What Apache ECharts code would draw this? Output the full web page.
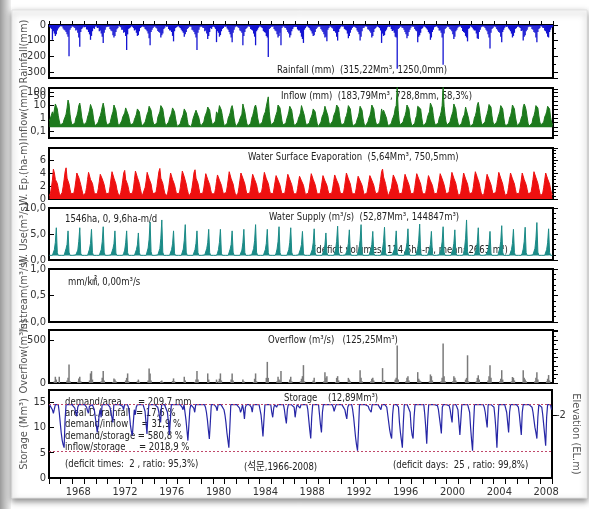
<!DOCTYPE html>
<html>
<head>
<meta charset="utf-8">
<title>Reservoir water balance 1966-2008</title>
<script src="https://cdn.jsdelivr.net/npm/echarts/dist/echarts.min.js"></script>
<style>
  html, body { margin: 0; padding: 0; background: #fff; }
  #chart { width: 589px; height: 509px; }
</style>
</head>
<body>
<div id="chart"></div>
<script>
// Monthly records, one row per year (Jan..Dec), starting 1966.
const firstYear = 1966;

// Rainfall: largest daily depth in the month (mm)
const rainfall = [
  [12,18,25,95,40,55,70,60,35,22,15,8],
  [8,10,22,30,35,45,60,75,200,30,20,10],
  [10,15,20,35,30,50,80,140,45,25,18,12],
  [15,12,28,30,45,60,95,70,40,20,25,10],
  [10,20,18,40,35,55,75,115,50,30,15,12],
  [12,10,25,35,40,65,80,70,45,28,20,8],
  [10,15,30,30,50,45,70,160,60,25,20,15],
  [8,12,20,35,30,50,70,65,40,20,15,10],
  [12,14,25,30,40,55,85,130,45,30,20,12],
  [10,18,22,38,45,50,80,65,55,25,18,8],
  [12,10,25,35,35,45,70,105,40,20,15,10],
  [8,15,20,30,40,50,75,60,45,25,20,12],
  [10,12,30,35,45,60,80,160,50,30,15,10],
  [12,18,20,40,35,55,90,70,45,20,25,12],
  [10,15,25,110,40,50,75,65,40,25,20,10],
  [12,10,22,30,45,60,80,110,50,30,15,8],
  [10,15,20,35,40,50,130,70,45,25,20,12],
  [8,12,25,30,35,55,75,130,40,30,18,10],
  [10,15,20,38,45,50,70,80,205,25,20,12],
  [12,10,25,35,40,60,80,70,50,130,20,10],
  [10,18,20,30,45,55,80,65,40,25,15,12],
  [12,12,28,35,35,50,75,90,115,30,20,10],
  [8,15,20,30,40,55,70,65,45,25,18,12],
  [10,12,25,35,45,60,80,75,105,30,20,10],
  [12,18,22,38,40,50,75,100,45,25,15,8],
  [10,10,25,30,35,55,85,70,50,30,20,12],
  [12,15,20,35,45,60,100,75,40,20,18,10],
  [8,12,28,30,40,50,80,70,45,25,20,12],
  [10,15,20,35,115,55,70,65,40,30,15,10],
  [12,10,25,38,35,50,75,80,280,25,20,12],
  [10,18,20,30,45,60,85,70,45,30,18,8],
  [12,12,25,35,40,110,75,65,50,25,20,10],
  [10,15,22,30,45,55,95,80,45,30,15,12],
  [8,12,20,35,35,50,80,255,55,25,20,10],
  [12,15,25,30,40,60,90,75,40,30,18,12],
  [10,10,20,38,45,50,70,80,105,25,20,8],
  [12,18,28,35,35,55,85,90,45,30,15,10],
  [10,12,20,30,40,60,80,150,50,25,20,12],
  [8,15,25,35,45,50,75,110,45,30,18,10],
  [12,10,22,30,40,55,80,70,50,25,20,12],
  [10,15,20,38,35,100,75,65,40,30,15,10],
  [12,12,25,30,45,50,80,110,45,25,20,8],
  [10,18,20,35,40,55,75,80,45,30,18,12]
];

// Inflow: largest daily depth in the month (mm, log scale)
const inflow = [
  [0.6,0.5,0.8,3,1.5,2,12,8,5,1.5,0.6,0.3],
  [0.3,0.25,0.4,0.8,1.2,2,6,24,12,2,0.6,0.3],
  [0.25,0.22,0.4,1,1.5,3,9,14,5,1.2,0.5,0.3],
  [0.3,0.25,0.5,1.2,2,4,11,8,4,1,0.4,0.25],
  [0.22,0.3,0.5,1,1.5,3,7,14,6,1.5,0.5,0.3],
  [0.3,0.22,0.4,0.9,1.8,3,10,9,4,1.2,0.4,0.25],
  [0.25,0.3,0.6,1.2,1.5,2.5,6,7,5,1.5,0.6,0.3],
  [0.3,0.25,0.4,0.8,1.2,2,5,6,3,1,0.4,0.25],
  [0.22,0.25,0.5,1,2,3,8,10,4,1.2,0.5,0.3],
  [0.3,0.22,0.4,1.2,1.5,3,9,7,5,1.5,0.5,0.25],
  [0.25,0.3,0.5,1,1.5,2.5,6,8,3,1,0.4,0.22],
  [0.22,0.25,0.4,0.8,1.2,2,5,4,2.5,0.8,0.3,0.22],
  [0.25,0.22,0.4,0.9,1.5,2.5,4,5,3,1,0.4,0.25],
  [0.3,0.25,0.5,1.2,2,3,7,6,4,1.2,0.5,0.3],
  [0.25,0.3,0.6,3,1.8,3,9,8,4,1.5,0.5,0.25],
  [0.22,0.25,0.4,1,1.5,2.5,6,9,4,1,0.4,0.22],
  [0.25,0.22,0.5,0.9,1.2,2,12,6,3,1,0.4,0.25],
  [0.3,0.25,0.4,1,1.5,3,7,10,5,1.2,0.5,0.3],
  [0.25,0.3,0.5,1.2,2,3,8,9,42,3,0.6,0.3],
  [0.3,0.25,0.5,1,1.8,3,10,8,6,5,0.6,0.3],
  [0.25,0.22,0.4,0.9,1.5,3,8,6,4,1.2,0.4,0.25],
  [0.22,0.25,0.5,1,1.5,2.5,9,12,10,1.5,0.5,0.3],
  [0.25,0.22,0.4,0.8,1.2,2,5,6,3,1,0.4,0.22],
  [0.3,0.25,0.5,1.2,1.8,3,8,9,11,1.5,0.5,0.3],
  [0.3,0.3,0.6,1.5,2,3.5,10,14,6,1.5,0.5,0.3],
  [0.25,0.22,0.4,1,1.5,3,9,8,5,1.2,0.4,0.25],
  [0.22,0.25,0.4,0.8,1.2,2.5,8,7,4,1,0.4,0.22],
  [0.25,0.22,0.5,1,1.5,3,10,9,5,1.2,0.5,0.3],
  [0.3,0.25,0.4,1,5,2.5,4,5,3,1,0.4,0.25],
  [0.22,0.25,0.4,0.8,1.2,2,6,9,250,4,0.6,0.3],
  [0.3,0.25,0.5,1,1.5,3,10,8,5,1.2,0.5,0.25],
  [0.25,0.22,0.4,1,1.5,8,9,7,5,1.2,0.4,0.25],
  [0.25,0.3,0.5,1.2,2,3,14,12,6,1.5,0.5,0.3],
  [0.3,0.25,0.4,1,1.5,3,9,250,8,1.5,0.5,0.3],
  [0.25,0.22,0.5,1,1.8,3,12,10,5,1.2,0.5,0.25],
  [0.22,0.25,0.4,0.9,1.2,2,7,8,9,1,0.4,0.22],
  [0.25,0.22,0.4,1,1.5,3,10,16,6,1.5,0.5,0.3],
  [0.3,0.25,0.5,1.2,2,4,11,14,7,1.5,0.5,0.3],
  [0.25,0.3,0.5,1,1.8,3,9,12,5,1.2,0.4,0.25],
  [0.22,0.25,0.4,1,1.5,3,10,8,5,1.2,0.5,0.25],
  [0.25,0.22,0.5,1,1.5,7,12,8,4,1.2,0.4,0.25],
  [0.3,0.25,0.4,1,1.5,3,9,12,6,1.5,0.5,0.3],
  [0.25,0.3,0.5,1.2,1.8,3,8,9,5,1.2,0.5,0.3]
];

// Water surface evaporation (ha-m)
const evaporation = [
  [0.5,0.9,1.8,2.9,4.6,4.0,3.0,3.2,2.4,1.6,0.9,0.5],
  [0.6,1.0,1.9,3.0,4.2,4.8,3.2,3.0,2.3,1.5,0.8,0.5],
  [0.5,0.9,1.7,2.8,4.0,4.3,3.3,3.1,2.2,1.5,0.9,0.5],
  [0.6,1.0,1.8,3.0,4.1,4.4,3.0,3.3,2.4,1.6,0.8,0.5],
  [0.5,0.8,1.6,2.7,3.8,4.1,3.1,3.0,2.2,1.4,0.8,0.5],
  [0.6,0.9,1.9,3.1,4.2,4.5,3.2,3.3,2.3,1.5,0.9,0.6],
  [0.5,1.0,1.8,2.9,4.0,4.4,3.0,3.1,2.2,1.5,0.8,0.5],
  [0.6,0.9,1.7,3.0,4.3,4.6,3.3,3.2,2.4,1.6,0.9,0.5],
  [0.5,0.8,1.8,2.8,4.1,4.3,3.1,3.0,2.3,1.4,0.8,0.5],
  [0.6,1.0,1.9,3.1,4.2,4.7,3.2,3.4,2.4,1.6,0.9,0.6],
  [0.5,0.9,1.7,2.9,4.0,4.3,3.0,3.1,2.2,1.5,0.8,0.5],
  [0.6,0.9,1.8,3.0,4.3,4.6,3.4,3.2,2.3,1.5,0.9,0.5],
  [0.5,1.0,1.8,2.9,4.1,4.5,3.2,3.3,2.4,1.6,0.8,0.5],
  [0.6,0.9,1.7,2.8,3.9,4.2,3.0,3.0,2.2,1.4,0.8,0.5],
  [0.5,0.8,1.6,2.7,3.7,4.0,2.9,2.9,2.1,1.4,0.8,0.5],
  [0.6,1.0,1.9,3.0,4.2,4.4,3.1,3.2,2.3,1.5,0.9,0.5],
  [0.5,0.9,1.8,2.9,4.0,4.3,3.2,3.0,2.3,1.5,0.8,0.5],
  [0.6,0.9,1.7,2.8,3.8,4.1,3.0,3.1,2.2,1.4,0.8,0.5],
  [0.5,1.0,1.8,3.0,4.1,4.4,3.1,3.2,2.4,1.6,0.9,0.6],
  [0.6,0.8,1.7,2.7,3.6,3.9,2.9,3.0,2.1,1.4,0.8,0.5],
  [0.5,0.9,1.8,2.8,3.8,4.0,3.0,2.9,2.2,1.5,0.8,0.5],
  [0.5,0.8,1.6,2.6,3.5,3.8,2.8,2.8,2.1,1.4,0.7,0.5],
  [0.6,0.9,1.7,2.8,3.9,4.1,3.0,3.0,2.2,1.5,0.8,0.5],
  [0.5,0.8,1.6,2.6,3.6,3.9,2.8,2.9,2.1,1.4,0.8,0.5],
  [0.5,0.9,1.7,2.7,3.7,4.0,2.9,3.0,2.2,1.4,0.8,0.5],
  [0.6,0.9,1.8,2.9,4.0,4.2,3.1,3.1,2.3,1.5,0.8,0.5],
  [0.5,0.8,1.6,2.6,3.5,3.8,2.8,2.9,2.1,1.4,0.7,0.5],
  [0.5,0.9,1.7,2.7,3.6,3.9,2.9,2.8,2.1,1.4,0.8,0.5],
  [0.6,1.0,1.9,3.0,4.2,4.6,3.4,3.3,2.4,1.6,0.9,0.5],
  [0.5,0.8,1.7,2.7,3.7,4.0,3.0,2.9,2.2,1.4,0.8,0.5],
  [0.5,0.9,1.7,2.8,3.8,4.1,3.0,3.0,2.2,1.5,0.8,0.5],
  [0.6,0.9,1.8,2.9,3.9,4.2,3.1,3.1,2.3,1.5,0.8,0.5],
  [0.5,0.8,1.6,2.6,3.6,3.9,2.8,2.9,2.1,1.4,0.8,0.5],
  [0.5,0.9,1.8,2.8,3.9,4.2,3.1,3.0,2.2,1.5,0.8,0.5],
  [0.6,1.0,1.9,3.0,4.1,4.4,3.2,3.2,2.4,1.6,0.9,0.5],
  [0.5,0.9,1.8,2.9,4.0,4.3,3.1,3.1,2.3,1.5,0.8,0.5],
  [0.6,1.0,1.9,3.1,4.2,4.5,3.3,3.2,2.4,1.6,0.9,0.6],
  [0.5,0.9,1.7,2.8,3.8,4.1,3.0,3.0,2.2,1.5,0.8,0.5],
  [0.6,1.0,1.9,3.0,4.1,4.4,3.2,3.1,2.3,1.5,0.9,0.5],
  [0.5,0.9,1.8,2.9,4.0,4.3,3.1,3.2,2.3,1.5,0.8,0.5],
  [0.6,0.9,1.8,2.9,4.0,4.2,3.0,3.1,2.2,1.5,0.8,0.5],
  [0.5,1.0,1.9,3.0,4.2,4.5,3.3,3.2,2.4,1.6,0.9,0.5],
  [0.6,0.9,1.8,2.9,4.0,4.3,3.1,3.1,2.3,1.5,0.9,0.6]
];

// Water supply (m³/s)
const supply = [
  [0.9,0.9,0.9,0.9,1.2,2.0,3.4,6.2,1.4,0.9,0.9,0.9],
  [0.9,0.9,0.9,0.9,1.1,2.2,3.0,5.6,1.5,0.9,0.9,0.9],
  [0.9,0.9,0.9,1.0,1.3,1.9,3.6,6.2,1.3,0.9,0.9,0.9],
  [0.9,0.9,0.9,0.9,1.2,2.1,3.2,5.9,1.4,0.9,0.9,0.9],
  [0.9,0.9,0.9,0.9,1.2,2.0,3.5,6.4,1.5,0.9,0.9,0.9],
  [0.9,0.9,0.9,1.0,1.1,2.2,3.1,5.6,1.3,0.9,0.9,0.9],
  [0.9,0.9,0.9,0.9,1.3,1.9,3.3,5.6,1.4,0.9,0.9,0.9],
  [0.9,0.9,0.9,0.9,1.2,2.0,2.9,5.2,1.4,0.9,0.9,0.9],
  [0.9,0.9,0.9,0.9,1.2,2.3,4.0,7.3,1.6,0.9,0.9,0.9],
  [0.9,0.9,0.9,1.0,1.3,2.2,4.2,7.7,1.5,0.9,0.9,0.9],
  [0.9,0.9,0.9,0.9,1.2,2.0,3.1,5.6,1.3,0.9,0.9,0.9],
  [0.9,0.9,0.9,0.9,1.2,2.1,3.8,6.8,1.5,0.9,0.9,0.9],
  [0.9,0.9,0.9,0.9,1.1,2.0,3.2,5.6,1.4,0.9,0.9,0.9],
  [0.9,0.9,0.9,1.0,1.2,2.2,3.3,5.9,1.4,0.9,0.9,0.9],
  [0.9,0.9,0.9,0.9,1.3,2.0,3.4,5.9,1.3,0.9,0.9,0.9],
  [0.9,0.9,0.9,0.9,1.2,2.1,3.0,5.6,1.5,0.9,0.9,0.9],
  [0.9,0.9,0.9,0.9,1.2,1.9,3.3,5.9,1.4,0.9,0.9,0.9],
  [0.9,0.9,0.9,1.0,1.2,2.2,3.7,6.8,1.5,0.9,0.9,0.9],
  [0.9,0.9,0.9,0.9,1.1,2.0,3.2,5.9,1.4,0.9,0.9,0.9],
  [0.9,0.9,0.9,0.9,1.3,2.1,3.5,6.4,1.4,0.9,0.9,0.9],
  [0.9,0.9,0.9,0.9,1.2,2.0,3.4,6.2,1.5,0.9,0.9,0.9],
  [0.9,0.9,0.9,1.0,1.2,2.1,3.0,5.5,1.3,0.9,0.9,0.9],
  [0.9,0.9,0.9,0.9,1.2,2.0,3.3,6.0,1.4,0.9,0.9,0.9],
  [0.9,0.9,0.9,0.9,1.1,1.9,2.9,5.2,1.4,0.9,0.9,0.9],
  [0.9,0.9,0.9,0.9,1.3,2.2,3.6,6.5,1.5,0.9,0.9,0.9],
  [0.9,0.9,0.9,1.0,1.2,2.0,3.2,5.8,1.4,0.9,0.9,0.9],
  [0.9,0.9,0.9,0.9,1.2,2.3,3.8,6.8,1.5,0.9,0.9,0.9],
  [0.9,0.9,0.9,0.9,1.2,2.0,3.0,5.5,1.3,0.9,0.9,0.9],
  [0.9,0.9,0.9,0.9,1.3,2.1,3.5,6.3,1.4,0.9,0.9,0.9],
  [0.9,0.9,0.9,1.0,1.2,2.0,3.1,5.6,1.4,0.9,0.9,0.9],
  [0.9,0.9,0.9,0.9,1.2,2.1,3.3,6.0,1.5,0.9,0.9,0.9],
  [0.9,0.9,0.9,0.9,1.2,2.2,3.8,6.9,1.4,0.9,0.9,0.9],
  [0.9,0.9,0.9,0.9,1.1,2.0,3.0,5.5,1.3,0.9,0.9,0.9],
  [0.9,0.9,0.9,1.0,1.2,2.1,3.5,6.4,1.5,0.9,0.9,0.9],
  [0.9,0.9,0.9,0.9,1.2,2.0,3.2,5.8,1.4,0.9,0.9,0.9],
  [0.9,0.9,0.9,0.9,1.3,2.3,4.2,7.7,1.6,0.9,0.9,0.9],
  [0.9,0.9,0.9,0.9,1.2,2.0,3.4,6.2,1.4,0.9,0.9,0.9],
  [0.9,0.9,0.9,1.0,1.2,1.9,3.0,5.5,1.3,0.9,0.9,0.9],
  [0.9,0.9,0.9,0.9,1.2,2.2,3.6,6.6,1.5,0.9,0.9,0.9],
  [0.9,0.9,0.9,0.9,1.1,2.0,3.2,5.9,1.4,0.9,0.9,0.9],
  [0.9,0.9,0.9,0.9,1.3,2.1,3.5,6.3,1.4,0.9,0.9,0.9],
  [0.9,0.9,0.9,1.0,1.2,2.2,4.0,7.2,1.5,0.9,0.9,0.9],
  [0.9,0.9,0.9,0.9,1.2,2.0,3.3,6.0,1.4,0.9,0.9,0.9]
];

// Spillway overflow: largest daily discharge in the month (m³/s)
const overflow = [
  [0,0,0,0,0,20,73,40,0,0,73,0],
  [0,0,0,0,0,0,30,60,217,20,0,0],
  [0,0,0,0,0,15,54,73,20,0,0,0],
  [0,0,0,0,0,30,112,139,40,0,0,0],
  [0,0,0,0,0,20,60,139,30,0,0,0],
  [0,0,0,0,0,10,54,40,20,0,0,0],
  [0,0,0,0,0,0,30,60,112,20,0,0],
  [0,0,0,0,0,0,20,40,15,0,0,0],
  [0,0,0,0,0,30,170,112,30,0,0,0],
  [0,0,0,0,0,0,20,30,10,0,0,0],
  [0,0,0,0,0,0,25,54,20,0,0,0],
  [0,0,0,0,0,0,73,30,0,0,0,0],
  [0,0,0,0,0,10,40,139,40,0,0,0],
  [0,0,0,0,0,0,112,40,0,0,0,0],
  [0,0,0,40,0,20,50,112,30,0,0,0],
  [0,0,0,0,0,0,40,112,30,0,0,0],
  [0,0,0,0,0,0,40,20,0,0,0,0],
  [0,0,0,0,0,10,50,112,20,0,0,0],
  [0,0,0,0,0,0,60,247,60,0,0,0],
  [0,0,0,0,0,20,73,40,30,139,0,0],
  [0,0,0,0,0,10,40,73,20,0,0,0],
  [0,0,0,0,0,20,50,80,209,20,0,0],
  [0,0,0,0,0,0,30,60,10,0,0,0],
  [0,0,0,0,0,20,127,60,80,0,0,0],
  [0,0,0,0,0,10,60,80,30,0,0,0],
  [0,0,0,0,0,0,60,40,20,0,0,0],
  [0,0,0,0,0,0,150,60,20,0,0,0],
  [0,0,0,0,0,20,50,60,30,0,0,0],
  [0,0,0,0,0,174,20,30,0,0,0,0],
  [0,0,0,0,0,0,40,60,440,40,0,0],
  [0,0,0,0,0,20,60,80,30,0,0,0],
  [0,0,0,0,0,127,50,30,20,0,0,0],
  [0,0,0,0,0,20,100,80,30,0,0,0],
  [0,0,0,0,0,20,60,463,80,20,0,0],
  [0,0,0,0,0,20,80,60,30,0,0,0],
  [0,0,0,0,0,0,40,60,324,20,0,0],
  [0,0,0,0,0,20,60,90,40,0,0,0],
  [0,0,0,0,0,30,80,209,60,0,0,0],
  [0,0,0,0,0,20,50,150,40,0,0,0],
  [0,0,0,0,0,20,70,60,30,0,0,0],
  [0,0,0,0,0,150,60,40,20,0,0,0],
  [0,0,0,0,0,20,60,127,40,0,0,0],
  [0,0,0,0,0,20,50,93,30,0,0,0]
];

// Reservoir storage at month end (Mm³)
const storage = [
  [14.5,14.5,14.2,13.5,12.8,13.6,14.5,14.5,14.5,14.5,13.0,11.0],
  [9.0,7.5,6.6,6.0,11.5,14.5,14.5,14.5,14.5,14.5,14.5,14.5],
  [14.5,14.5,13.8,12.8,12.2,14.0,14.5,14.5,14.5,14.5,14.5,14.5],
  [14.5,14.5,14.0,13.3,12.8,14.2,14.5,14.5,14.5,14.5,13.5,12.0],
  [10.5,9.0,10.5,12.5,13.5,12.0,14.5,14.5,14.5,14.5,14.5,14.5],
  [14.5,14.5,14.0,13.0,12.0,11.0,14.5,14.5,14.5,14.5,14.5,14.5],
  [14.5,14.5,14.5,14.2,13.5,14.5,14.5,14.5,14.5,14.0,12.5,10.5],
  [9.2,8.4,11.0,13.5,12.5,14.0,14.5,14.5,14.5,14.5,14.5,14.5],
  [14.5,14.5,13.2,11.0,8.7,12.5,14.5,14.5,14.5,14.5,14.5,14.5],
  [14.5,14.5,14.5,14.0,13.2,12.0,11.0,14.5,14.5,14.5,14.5,14.5],
  [14.5,13.0,11.0,8.5,11.5,14.5,14.5,14.5,14.5,14.5,14.5,14.5],
  [14.5,14.5,14.5,14.5,14.0,13.5,14.5,13.0,11.5,9.5,7.4,10.5],
  [13.5,14.5,14.5,14.3,13.8,13.0,14.5,14.5,14.5,14.5,14.5,14.5],
  [14.5,14.5,14.5,14.5,14.0,13.0,11.5,9.5,7.7,11.0,14.5,14.5],
  [14.5,14.5,14.5,14.0,13.3,14.5,14.5,14.5,14.5,14.5,14.5,13.5],
  [12.5,11.0,9.0,7.5,6.0,10.0,14.5,14.5,14.5,14.5,14.5,14.5],
  [14.5,14.5,14.3,13.8,13.0,13.5,14.5,13.5,11.7,14.0,14.5,14.5],
  [14.5,14.5,14.5,14.0,13.0,14.5,14.5,14.5,14.5,14.5,14.5,14.5],
  [14.5,12.5,10.5,8.2,11.5,14.5,14.5,14.5,14.5,14.5,14.5,14.5],
  [13.0,12.0,13.8,14.5,14.5,14.0,14.5,14.5,14.5,14.5,14.5,14.5],
  [14.5,13.5,12.0,10.8,13.5,14.5,14.5,14.5,14.5,14.5,14.5,14.0],
  [12.0,13.5,14.5,14.5,14.3,13.8,14.5,14.5,14.5,14.5,14.5,14.5],
  [14.5,13.5,11.5,9.5,7.8,12.0,14.5,14.5,14.5,14.5,14.5,14.5],
  [14.5,12.5,10.5,9.0,13.0,14.5,14.5,14.5,14.5,14.5,14.5,14.5],
  [14.5,14.5,14.5,14.0,13.2,13.0,14.5,14.5,14.5,14.5,14.5,14.5],
  [14.5,14.5,14.3,13.5,12.5,11.7,14.0,14.5,14.5,14.5,14.5,13.5],
  [12.0,10.0,8.0,6.5,5.4,9.5,14.5,14.5,14.5,14.5,14.5,14.5],
  [14.5,14.5,14.5,14.2,13.6,13.5,13.0,14.5,14.5,14.5,14.5,14.5],
  [14.5,14.5,14.5,14.2,13.5,14.5,14.5,14.5,14.5,14.5,14.0,12.5],
  [11.0,9.5,8.5,7.8,12.5,14.5,14.5,14.5,14.5,14.5,14.0,11.0],
  [9.0,7.5,6.0,11.0,14.5,14.5,14.5,14.5,14.5,14.5,13.0,10.0],
  [8.5,7.8,12.0,14.5,14.5,14.5,14.5,14.5,14.5,14.5,14.5,14.5],
  [14.5,12.5,10.0,6.8,11.5,14.5,14.5,14.5,14.5,14.5,14.5,14.5],
  [14.5,14.5,14.3,13.5,12.0,10.5,8.8,14.0,14.5,14.5,14.5,14.5],
  [14.5,14.5,14.3,13.5,12.2,11.0,14.5,14.5,14.5,14.5,14.5,13.5],
  [11.0,8.5,11.5,14.5,14.5,14.5,14.5,14.5,14.5,14.5,14.5,13.0],
  [10.0,7.5,5.4,10.5,14.5,14.5,14.5,14.5,14.5,14.5,14.5,14.5],
  [14.5,14.5,14.0,13.0,11.5,10.0,14.5,14.5,14.5,14.5,14.5,14.5],
  [14.0,12.0,9.5,6.0,11.0,14.5,14.5,14.5,14.5,14.5,14.5,14.5],
  [14.5,13.0,11.0,9.0,13.0,14.5,14.5,14.5,14.5,14.5,14.5,14.5],
  [14.5,14.0,12.5,10.5,8.5,13.0,14.5,14.5,14.5,14.5,14.5,14.5],
  [14.5,14.5,14.5,14.0,13.0,11.5,10.0,9.0,7.8,12.0,14.5,14.5],
  [14.5,14.0,12.5,10.5,8.5,6.4,12.0,14.5,14.5,14.5,14.5,13.5]
];

// Storage reference levels (Mm³): full supply and dead storage
const fullStorage = 14.6;
const lowStorage = 5.35;

// Axis tick labels
const yearLabels = [1968, 1972, 1976, 1980, 1984, 1988, 1992, 1996, 2000, 2004, 2008];
const rainTicks = [0, 100, 200, 300];
const inflowTicks = [0.1, 1, 10, 50, 100, 150];
const evapTicks = [0, 2, 4, 6];
const supplyTicks = [0, 5, 10];
const instreamTicks = [0, 0.5, 1];
const overflowTicks = [0, 500];
const storageTicks = [0, 5, 10, 15];
const elevationTicks = [-2];

// ---------------------------------------------------------------
const lastYear = firstYear + storage.length;           // axis runs to the end of 2008
const years = [];
for (let y = firstYear; y <= lastYear; y++) years.push(y);

function monthly(rows, fn) {
  const out = [];
  rows.forEach((row, i) => row.forEach((v, m) => {
    out.push([firstYear + i + (m + 0.5) / 12, fn ? fn(v) : v]);
  }));
  return out;
}
const log10 = v => Math.log10(v);
const comma = s => String(s).replace('.', ',');

const FONT = "'DejaVu Sans Condensed','Liberation Sans','Noto Sans CJK KR',sans-serif";
const AX_SIZE = 11;

const panels = [
  { top: 25,  height: 53 },
  { top: 88,  height: 50 },
  { top: 148, height: 51 },
  { top: 208, height: 52 },
  { top: 269, height: 53 },
  { top: 330, height: 53 },
  { top: 390, height: 88 }
];
const grid = panels.map(p => ({
  left: 49, width: 504, top: p.top, height: p.height,
  show: true, borderColor: '#000', borderWidth: 2, backgroundColor: '#fff'
}));

const xAxis = panels.map((p, i) => {
  const ax = {
    type: 'value', gridIndex: i, min: firstYear, max: lastYear,
    splitLine: { show: false }, axisLine: { show: false },
    axisTick: { show: false }, axisLabel: { show: false }
  };
  if (i === 0) {
    ax.position = 'top';
    ax.axisTick = { show: true, customValues: years, length: 4, lineStyle: { color: '#000' } };
  }
  if (i === panels.length - 1) {
    ax.position = 'bottom';
    ax.axisTick = { show: true, customValues: years, length: 6, lineStyle: { color: '#000' } };
    ax.axisLabel = {
      show: true, customValues: yearLabels.map(y => y + 0.5),
      formatter: v => String(Math.floor(v)), margin: 9,
      fontFamily: FONT, fontSize: AX_SIZE, color: '#333'
    };
  }
  return ax;
});

function leftAxis(gi, name, min, max, ticks, fmt, extra) {
  return Object.assign({
    type: 'value', gridIndex: gi, position: 'left', min, max,
    name, nameLocation: 'middle', nameGap: 19, nameMoveOverlap: false,
    nameTextStyle: { fontFamily: FONT, fontSize: AX_SIZE, color: '#555' },
    axisLine: { show: false }, splitLine: { show: false },
    axisTick: { show: true, inside: true, length: 5, customValues: ticks, lineStyle: { color: '#000' } },
    axisLabel: { customValues: ticks, formatter: fmt, fontFamily: FONT, fontSize: AX_SIZE, color: '#333', margin: 3 }
  }, extra || {});
}
function rightAxis(gi, min, max, opts) {
  return Object.assign({
    type: 'value', gridIndex: gi, position: 'right', min, max,
    axisLine: { show: false }, splitLine: { show: false }, axisLabel: { show: false },
    axisTick: { show: true, inside: false, length: 5, lineStyle: { color: '#000' } },
    minorTick: { show: true, splitNumber: 2, length: 3, lineStyle: { color: '#000' } }
  }, opts || {});
}

const inflowMin = log10(0.03), inflowMax = log10(200);

const yAxis = [
  leftAxis(0, 'Rainfall(mm)', 0, 340, rainTicks, v => String(v), { inverse: true }),
  leftAxis(1, 'Inflow(mm)', inflowMin, inflowMax, inflowTicks.map(log10),
    v => comma(+Math.pow(10, v).toPrecision(2))),
  leftAxis(2, 'W. Ep.(ha-m)', 0, 7.85, evapTicks, v => String(v)),
  leftAxis(3, 'W. Use(m³/s)', 0, 10, supplyTicks, v => comma(v.toFixed(1))),
  leftAxis(4, 'Instream(m³/s)', 0, 1, instreamTicks, v => comma(v.toFixed(1))),
  leftAxis(5, 'Overflow(m³/s)', 0, 620, overflowTicks, v => String(v)),
  leftAxis(6, 'Storage (Mm³)', 0, 17.4, storageTicks, v => String(v)),
  rightAxis(0, 0, 340, { inverse: true, interval: 100 }),
  rightAxis(1, inflowMin, inflowMax, {
    axisTick: { show: true, length: 5, lineStyle: { color: '#000' },
      customValues: [0.05, 0.1, 0.2, 0.5, 1, 2, 5, 10, 20, 50, 100, 150].map(log10) },
    minorTick: { show: false }
  }),
  rightAxis(2, 0, 7.85, { interval: 2, minorTick: { show: true, splitNumber: 4, length: 3, lineStyle: { color: '#000' } } }),
  rightAxis(3, 0, 10, { interval: 5, minorTick: { show: true, splitNumber: 5, length: 3, lineStyle: { color: '#000' } } }),
  rightAxis(4, 0, 1, { interval: 0.5, minorTick: { show: true, splitNumber: 5, length: 3, lineStyle: { color: '#000' } } }),
  rightAxis(5, 0, 620, { interval: 100 }),
  {
    type: 'value', gridIndex: 6, position: 'right', min: -4.5, max: -1.0,
    name: 'Elevation (EL.m)', nameLocation: 'middle', nameGap: 18, nameRotate: -90, nameMoveOverlap: false,
    nameTextStyle: { fontFamily: FONT, fontSize: AX_SIZE, color: '#555' },
    axisLine: { show: false }, splitLine: { show: false },
    axisTick: { show: true, inside: false, length: 5, customValues: elevationTicks, lineStyle: { color: '#000' } },
    axisLabel: { customValues: elevationTicks, fontFamily: FONT, fontSize: AX_SIZE, color: '#333', margin: 4 }
  }
];

const series = [
  {
    name: 'Rainfall', type: 'bar', xAxisIndex: 0, yAxisIndex: 0,
    data: monthly(rainfall), barWidth: 1.3, itemStyle: { color: '#1414d2' }
  },
  {
    name: 'Inflow', type: 'line', xAxisIndex: 1, yAxisIndex: 1,
    data: monthly(inflow, log10), showSymbol: false,
    lineStyle: { color: '#1d7a1d', width: 1 },
    areaStyle: { color: '#1d7a1d', opacity: 1, origin: log10(0.2) }
  },
  {
    name: 'Evaporation', type: 'line', xAxisIndex: 2, yAxisIndex: 2,
    data: monthly(evaporation), showSymbol: false,
    lineStyle: { color: '#ee1010', width: 1 },
    areaStyle: { color: '#ee1010', opacity: 1 }
  },
  {
    name: 'Water supply', type: 'line', xAxisIndex: 3, yAxisIndex: 3,
    data: monthly(supply), showSymbol: false,
    lineStyle: { color: '#1b8b87', width: 1 },
    areaStyle: { color: '#1b8b87', opacity: 1, origin: 0.85 }
  },
  {
    name: 'Overflow', type: 'bar', xAxisIndex: 5, yAxisIndex: 5,
    data: monthly(overflow), barWidth: 1.5, itemStyle: { color: '#7a7a7a' }
  },
  {
    name: 'Storage', type: 'line', xAxisIndex: 6, yAxisIndex: 6,
    data: monthly(storage), showSymbol: false,
    lineStyle: { color: '#2626a6', width: 1.2 },
    markLine: {
      silent: true, symbol: 'none', label: { show: false },
      lineStyle: { color: '#c0486a', type: [2, 2], width: 1 },
      data: [{ yAxis: fullStorage }, { yAxis: lowStorage }]
    }
  }
];

// Captions written inside the panels: [text, left x, middle y]
const captions = [
  ['Rainfall (mm)  (315,22Mm³, 1250,0mm)', 277, 70],
  ['Inflow (mm)  (183,79Mm³, 728,8mm, 58,3%)', 281, 96],
  ['Water Surface Evaporation  (5,64Mm³, 750,5mm)', 248, 157],
  ['1546ha, 0, 9,6ha-m/d', 65, 219],
  ['Water Supply (m³/s)  (52,87Mm³, 144847m³)', 269, 217],
  ['(deficit volumes: 114,5ha-m, mean: 2663 m³)', 313, 250],
  ['mm/㎢, 0,00m³/s', 68, 282],
  ['Overflow (m³/s)   (125,25Mm³)', 268, 340],
  ['Storage    (12,89Mm³)', 284, 398],
  ['demand/area      = 209,7 mm', 65, 402],
  ['areal D./rainfall  = 17,6 %', 65, 413],
  ['demand/inflow     = 31,9 %', 65, 424],
  ['demand/storage = 580,8 %', 65, 436],
  ['inflow/storage     = 2018,9 %', 65, 447],
  ['(deficit times:  2 , ratio: 95,3%)', 65, 464],
  ['(석문,1966-2008)', 244, 467],
  ['(deficit days:  25 , ratio: 99,8%)', 393, 465]
];

const graphic = [
  {
    type: 'rect', z: -10, silent: true,
    shape: { x: 0, y: 0, width: 11, height: 509 },
    style: { fill: new echarts.graphic.LinearGradient(0, 0, 1, 0, [
      { offset: 0, color: '#9a9a9a' }, { offset: 1, color: '#f2f2f2' }]) }
  },
  {
    type: 'rect', z: -9, silent: true,
    shape: { x: 12, y: 10, width: 575, height: 488 },
    style: { fill: '#fff', stroke: '#e2e2e2', lineWidth: 1,
      shadowBlur: 6, shadowOffsetY: 3, shadowColor: 'rgba(0,0,0,0.45)' }
  }
].concat(captions.map(([text, x, y]) => ({
  type: 'text', z: 1, silent: true, x, y, scaleX: 0.86,
  style: { text, font: '11px ' + FONT, fill: '#222', textVerticalAlign: 'middle', verticalAlign: 'middle' }
})));

const chart = echarts.init(document.getElementById('chart'), null, { renderer: 'canvas' });
chart.setOption({
  animation: false,
  backgroundColor: '#fff',
  grid, xAxis, yAxis, series, graphic
});
</script>
</body>
</html>
